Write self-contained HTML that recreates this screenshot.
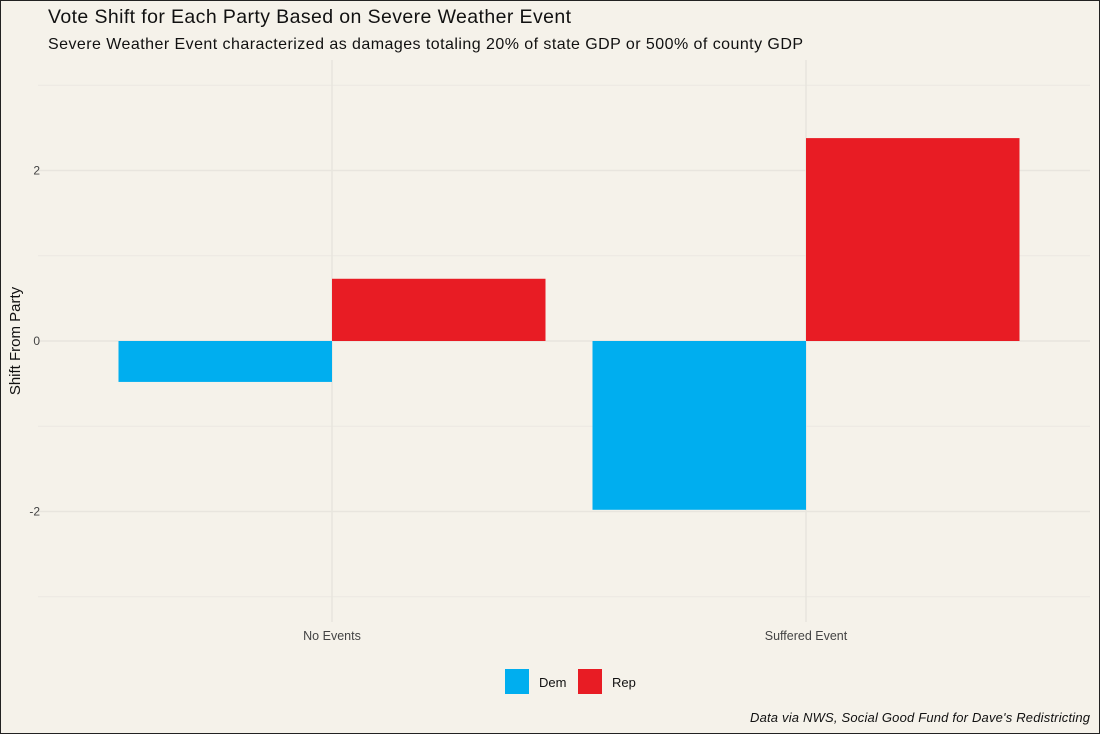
<!DOCTYPE html>
<html><head><meta charset="utf-8"><style>
html,body{margin:0;padding:0;background:#f5f2ea;}
body{width:1100px;height:734px;overflow:hidden;font-family:"Liberation Sans","DejaVu Sans",sans-serif;}
#frame{position:absolute;left:0;top:0;width:1098px;height:732px;border:1px solid #222;}
</style></head><body>
<div id="frame"></div>
<svg id="chart" width="1100" height="734" style="position:absolute;left:0;top:0">
<text x="48" y="23" font-size="19.5" fill="#111" textLength="523" lengthAdjust="spacing">Vote Shift for Each Party Based on Severe Weather Event</text>
<text x="48" y="49" font-size="16" fill="#111" textLength="755" lengthAdjust="spacing">Severe Weather Event characterized as damages totaling 20% of state GDP or 500% of county GDP</text>
<text transform="translate(20,341) rotate(-90)" text-anchor="middle" font-size="15" fill="#111">Shift From Party</text>
<g id="grid"></g><g id="bars"></g><g id="axes"></g>
<g>
<rect x="505" y="669" width="24" height="25" fill="#00aeef"/>
<text x="539" y="687" font-size="13" fill="#111">Dem</text>
<rect x="578" y="669" width="24" height="25" fill="#e81c24"/>
<text x="612" y="687" font-size="13" fill="#111">Rep</text>
</g>
<text x="1090" y="722" text-anchor="end" font-size="13" font-style="italic" fill="#111" textLength="340" lengthAdjust="spacing">Data via NWS, Social Good Fund for Dave's Redistricting</text>
</svg>
<script>
const categories=["No Events","Suffered Event"];
const demValues=[-0.48,-1.98];
const repValues=[0.73,2.38];
const yTicks=[-2,0,2];
const yMinor=[-3,-1,1,3];
const ns="http://www.w3.org/2000/svg";
const y=v=>341-v*85.25;
const xCenter=i=>332+i*474;
const barW=213.5;
function mk(tag,attrs,parent){const e=document.createElementNS(ns,tag);for(const k in attrs)e.setAttribute(k,attrs[k]);document.getElementById(parent).appendChild(e);return e;}
yMinor.forEach(v=>{const l=mk('line',{x1:38,x2:1090,y1:y(v),y2:y(v),stroke:'#ebe8e1','stroke-width':1},'grid');

});
yTicks.forEach(v=>{const l=mk('line',{x1:38,x2:1090,y1:y(v),y2:y(v),stroke:'#e8e5de','stroke-width':1.5},'grid');


const t=mk('text',{x:40,y:y(v)+4,'text-anchor':'end','font-size':12,fill:'#444'},'axes');t.textContent=v;

});
categories.forEach((c,i)=>{const l=mk('line',{x1:xCenter(i),x2:xCenter(i),y1:60,y2:622,stroke:'#e8e5de','stroke-width':1.5},'grid');


const t=mk('text',{x:xCenter(i),y:640,'text-anchor':'middle','font-size':12.5,fill:'#444'},'axes');t.textContent=c;


const d=demValues[i],r=repValues[i];
const b1=mk('rect',{x:xCenter(i)-barW,y:Math.min(y(d),y(0)),width:barW,height:Math.abs(y(d)-y(0)),fill:'#00aeef'},'bars');


const b2=mk('rect',{x:xCenter(i),y:Math.min(y(r),y(0)),width:barW,height:Math.abs(y(r)-y(0)),fill:'#e81c24'},'bars');

});
</script>
</body></html>
